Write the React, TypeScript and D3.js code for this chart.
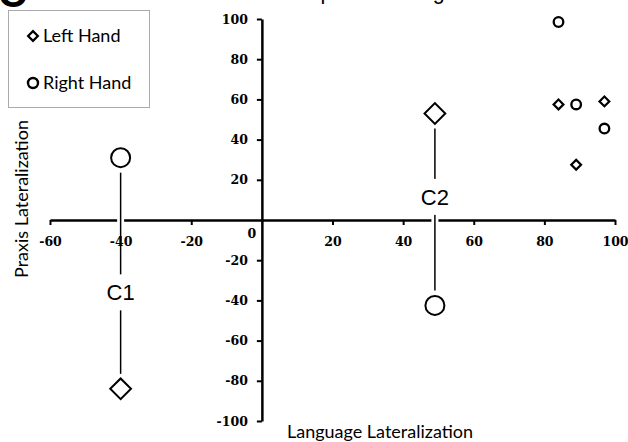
import React, { useRef, useEffect } from "react";
import * as d3 from "d3";

// ticks
const xTicks = [-60, -40, -20, 20, 40, 60, 80, 100];
const yTicks = [100, 80, 60, 40, 20, -20, -40, -60, -80, -100];

const legendNames = ["Left Hand", "Right Hand"];

// the two clusters (big markers)
const clusterNames = ["C1", "C2"];
const clusterLanguage = [-40, 49];
const clusterLeftPraxis = [-84, 53];
const clusterRightPraxis = [31, -42.5];

// single cases (small markers)
const caseLeftLanguage = [84, 97, 89];
const caseLeftPraxis = [57.5, 59, 27.5];
const caseRightLanguage = [84, 89, 97];
const caseRightPraxis = [98.5, 57.5, 45.5];

export default function App() {
  const svgRef = useRef<SVGSVGElement>(null);

  useEffect(() => {
    const svg = d3.select(svgRef.current);
    svg.selectAll("*").remove();

    const x = d3.scaleLinear().domain([-60, 100]).range([50, 615]);
    const y = d3.scaleLinear().domain([-100, 100]).range([421, 19]);

    const tickFont = "'DejaVu Serif', serif";
    const labelFont = "Lato, 'Open Sans', sans-serif";
    const arial = "'Liberation Sans', Arial, sans-serif";

    // cut-off panel letter + title at the top
    svg.append("text").attr("x", -2).attr("y", 7)
      .attr("font-family", arial).attr("font-weight", "bold").attr("font-size", 40).text("C");
    svg.append("text").attr("x", 275).attr("y", -1)
      .attr("font-family", arial).attr("font-size", 21.5).text("Comparison of agreement");

    // axis lines through the origin
    const gx = svg.append("g").attr("transform", `translate(0,${y(0)})`)
      .call(d3.axisBottom(x).tickValues(xTicks).tickSize(5).tickSizeOuter(0).tickFormat(() => ""));
    const gy = svg.append("g").attr("transform", `translate(${x(0)},0)`)
      .call(d3.axisLeft(y).tickValues(yTicks).tickSize(5).tickSizeOuter(0).tickFormat(() => ""));
    [gx, gy].forEach(g => {
      g.select(".domain").attr("stroke", "#000").attr("stroke-width", 2.5);
      g.selectAll(".tick line").attr("stroke", "#000").attr("stroke-width", 2);
    });

    // cluster connectors
    const labelAt = [-36, 11.5];
    const gap = 15;
    clusterNames.forEach((name, i) => {
      const cx = x(clusterLanguage[i]);
      const top = Math.min(y(clusterLeftPraxis[i]), y(clusterRightPraxis[i])) + gap;
      const bot = Math.max(y(clusterLeftPraxis[i]), y(clusterRightPraxis[i])) - gap;
      svg.append("line").attr("x1", cx).attr("x2", cx).attr("y1", top).attr("y2", bot)
        .attr("stroke", "#fff").attr("stroke-width", 7);
      svg.append("line").attr("x1", cx).attr("x2", cx).attr("y1", top).attr("y2", bot)
        .attr("stroke", "#000").attr("stroke-width", 1.5);
      const ly = y(labelAt[i]);
      svg.append("rect").attr("x", cx - 20).attr("y", ly - 18).attr("width", 40).attr("height", 36)
        .attr("fill", "#fff");
      svg.append("text").attr("x", cx).attr("y", ly + 8).attr("text-anchor", "middle")
        .attr("font-family", arial).attr("font-size", 22).text(name);
    });

    // tick labels on top
    const lx = svg.append("g").attr("transform", `translate(0,${y(0)})`)
      .call(d3.axisBottom(x).tickValues(xTicks).tickSize(0).tickPadding(17).tickFormat(d => String(d)));
    const ly = svg.append("g").attr("transform", `translate(${x(0)},0)`)
      .call(d3.axisLeft(y).tickValues(yTicks).tickSize(0).tickPadding(14).tickFormat(d => String(d)));
    [lx, ly].forEach(g => {
      g.select(".domain").remove();
      g.selectAll(".tick text").attr("fill", "#000")
        .attr("font-family", tickFont).attr("font-weight", "bold").attr("font-size", 12.5);
    });
    svg.append("text").attr("x", x(0) - 10).attr("y", y(0) + 18)
      .attr("text-anchor", "middle").attr("font-family", tickFont)
      .attr("font-weight", "bold").attr("font-size", 12.5).text("0");

    // axis titles
    svg.append("text").attr("x", 380).attr("y", 438).attr("text-anchor", "middle")
      .attr("font-family", labelFont).attr("font-size", 18).text("Language Lateralization");
    svg.append("text").attr("transform", "translate(28,199) rotate(-90)").attr("text-anchor", "middle")
      .attr("font-family", labelFont).attr("font-size", 18).text("Praxis Lateralization");

    const diamond = (size: number) => d3.symbol().type(d3.symbolSquare).size(size)();
    const drawDiamond = (px: number, py: number, size: number, sw: number) =>
      svg.append("path").attr("d", diamond(size))
        .attr("transform", `translate(${px},${py}) rotate(45)`)
        .attr("fill", "#fff").attr("stroke", "#000").attr("stroke-width", sw);
    const drawCircle = (px: number, py: number, r: number, sw: number) =>
      svg.append("circle").attr("cx", px).attr("cy", py).attr("r", r)
        .attr("fill", "#fff").attr("stroke", "#000").attr("stroke-width", sw);

    clusterLanguage.forEach((v, i) => {
      drawDiamond(x(v), y(clusterLeftPraxis[i]), 215, 2);
      drawCircle(x(v), y(clusterRightPraxis[i]), 9.5, 2);
    });
    caseLeftLanguage.forEach((v, i) => drawDiamond(x(v), y(caseLeftPraxis[i]), 48, 2.2));
    caseRightLanguage.forEach((v, i) => drawCircle(x(v), y(caseRightPraxis[i]), 4.8, 2.3));

    // legend
    svg.append("rect").attr("x", 8.5).attr("y", 10.5).attr("width", 141).attr("height", 97)
      .attr("fill", "#fff").attr("stroke", "#aaa").attr("stroke-width", 1);
    legendNames.forEach((name, i) => {
      const ry = i === 0 ? 36 : 83;
      if (i === 0) drawDiamond(33, ry, 48, 2.2);
      else drawCircle(33, ry, 5, 2.4);
      svg.append("text").attr("x", 43).attr("y", ry + 6).attr("font-family", labelFont)
        .attr("font-size", 18).text(name);
    });
  }, []);

  return (
    <svg ref={svgRef} width={628} height={442}
      style={{ position: "absolute", left: 0, top: 0, background: "#fff" }} />
  );
}
